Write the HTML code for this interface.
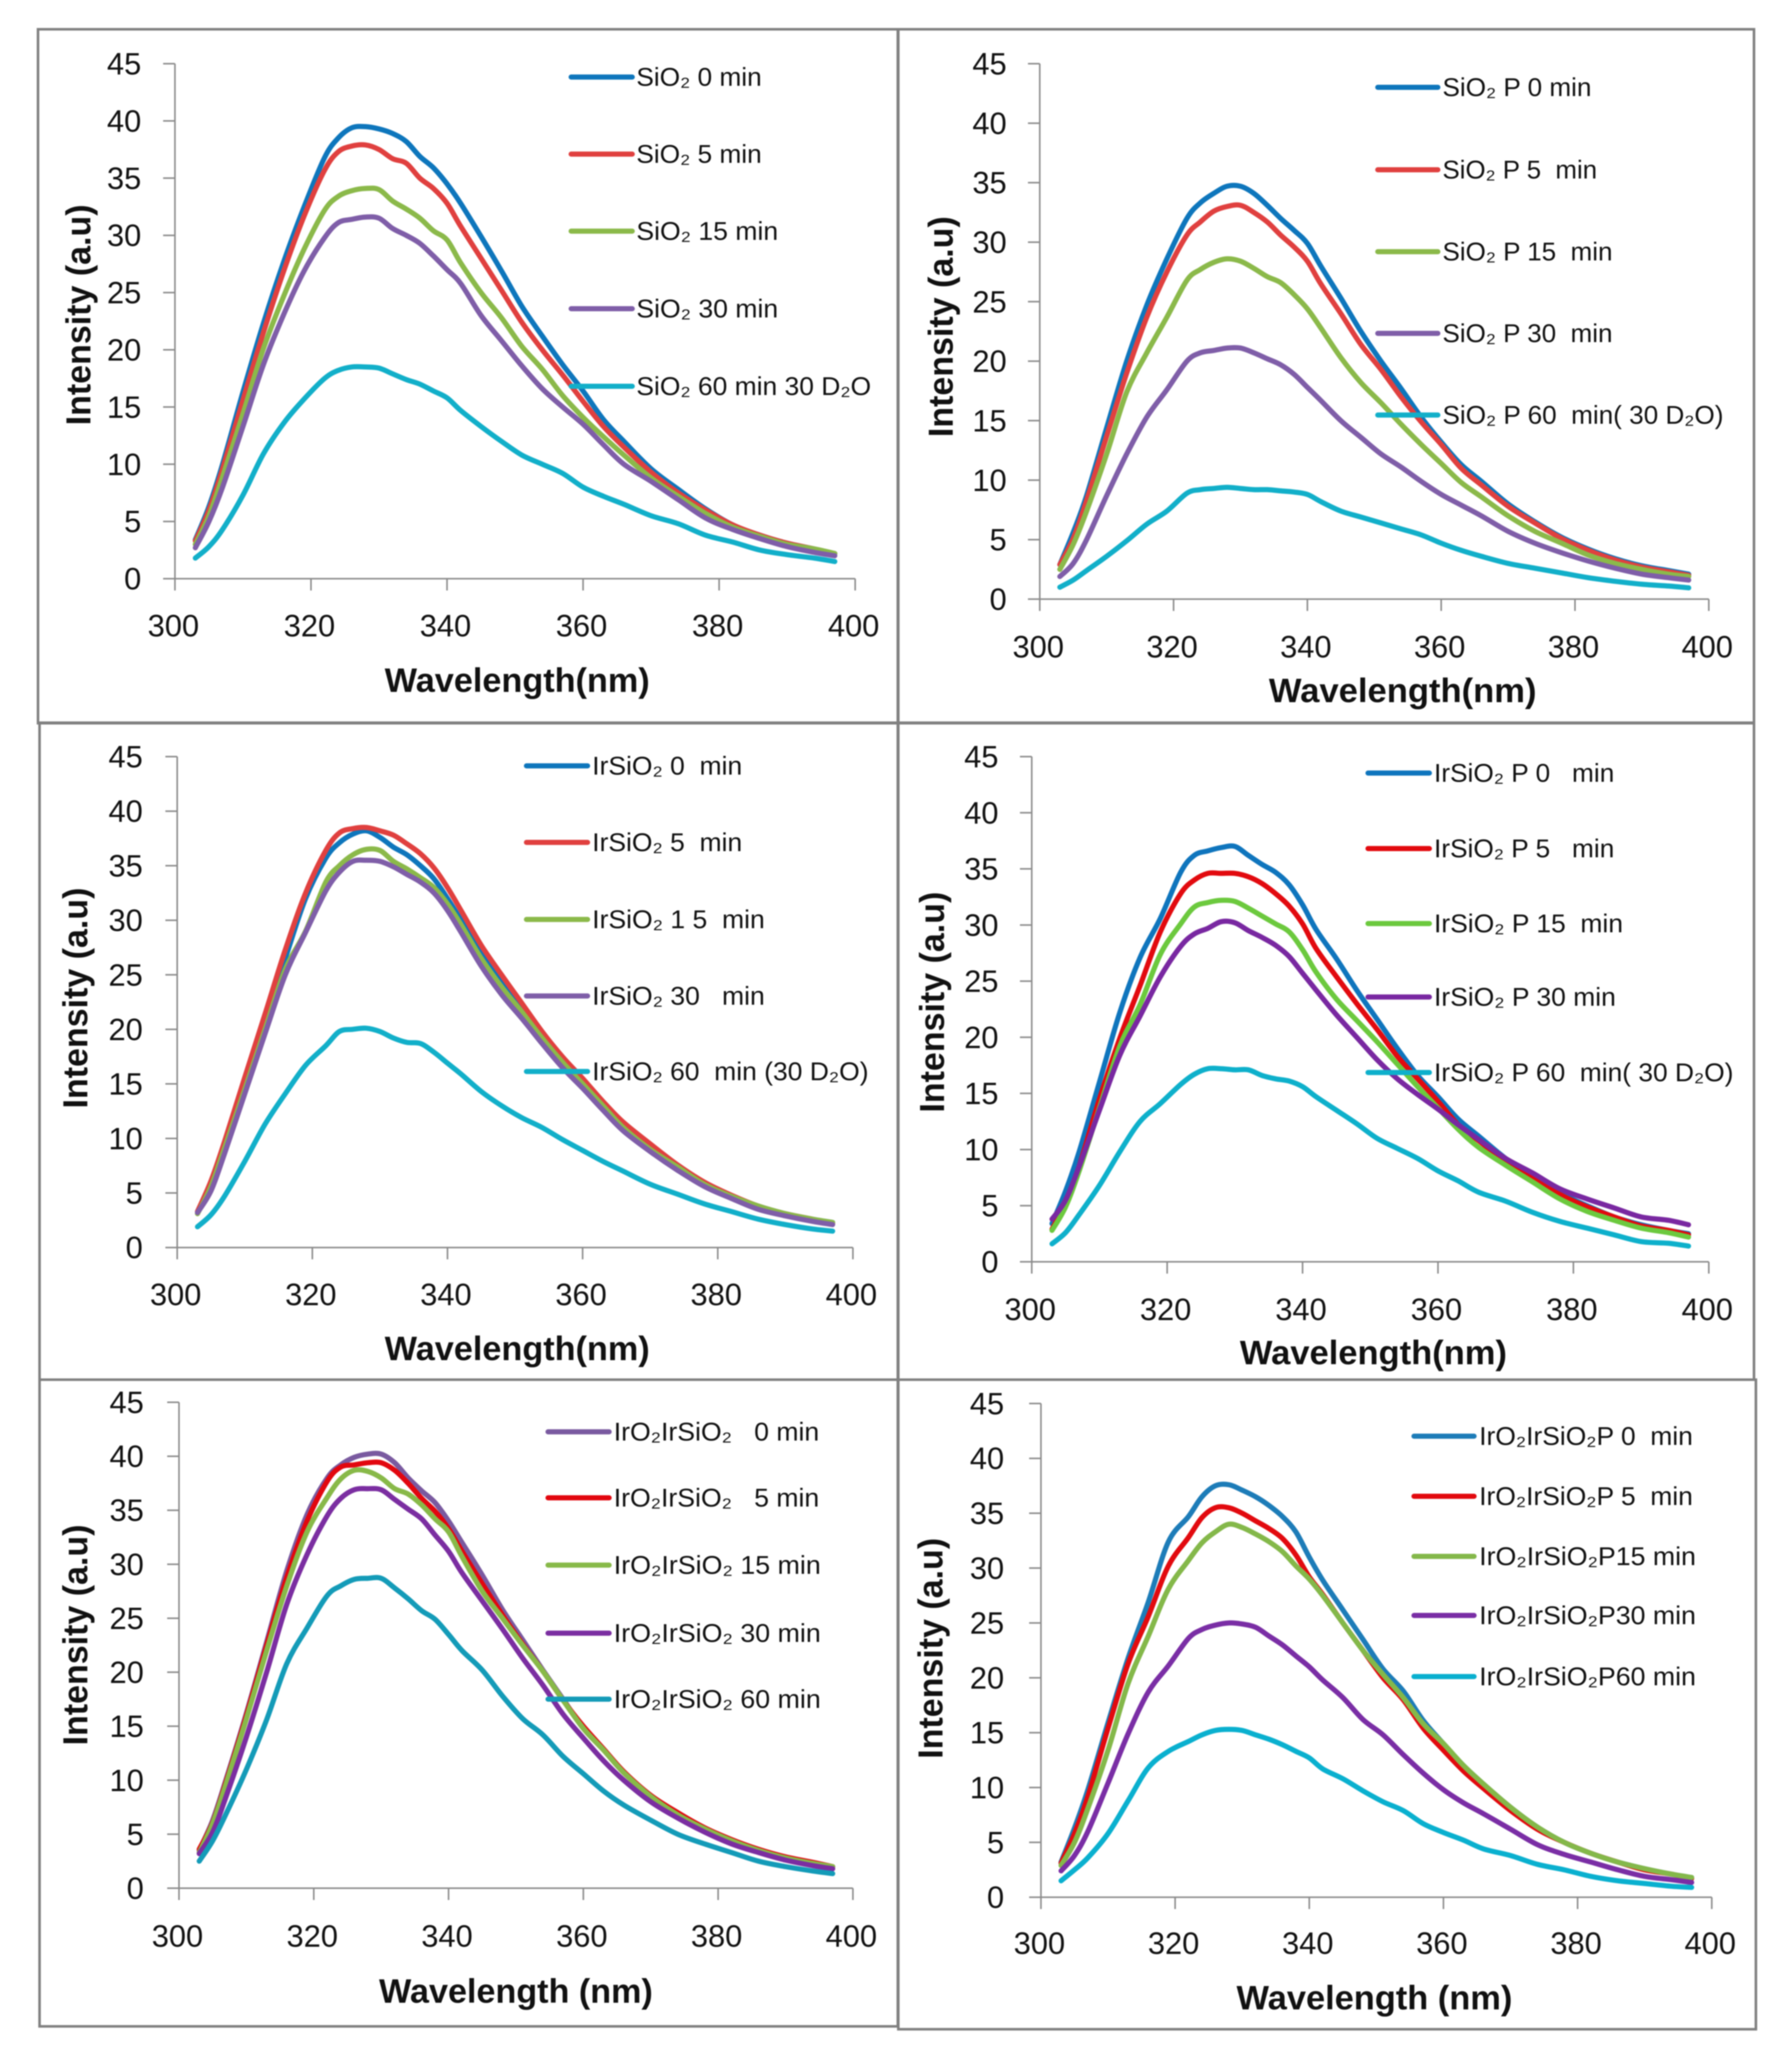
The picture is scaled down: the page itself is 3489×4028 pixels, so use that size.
<!DOCTYPE html>
<html lang="en">
<head>
<meta charset="utf-8">
<title>Emission spectra panels</title>
<style>
html,body{margin:0;padding:0;background:#fff;width:3489px;height:4028px;overflow:hidden}
svg{display:block;filter:blur(1px)}
text{font-family:"Liberation Sans","DejaVu Sans",sans-serif;fill:#111;white-space:pre}
</style>
</head>
<body>
<svg id="figure" xmlns="http://www.w3.org/2000/svg" width="3489" height="4028" viewBox="0 0 3489 4028"></svg>
<script>
const wavelengths=[303,305,307,310,313,316,319,322,324,326,328,330,332,334,336,338,340,342,345,348,351,354,357,360,363,366,370,374,378,382,386,390,394,397];
const yTicks=[0,5,10,15,20,25,30,35,40,45];
const xTicks=[300,320,340,360,380,400];

const sio2_0=[3.4,6.3,10,16.3,22.3,27.7,32.5,36.8,38.5,39.4,39.5,39.3,38.9,38.2,36.9,35.9,34.5,32.8,29.9,26.9,23.8,21.2,18.7,16.4,13.9,12,9.6,7.8,6.1,4.7,3.8,3.1,2.6,2.2];
const sio2_5=[3.3,6,9.6,15.6,21.5,26.9,31.7,35.7,37.3,37.8,37.9,37.5,36.7,36.3,35,34.1,32.8,30.8,28,25.2,22.4,20,17.8,15.5,13.3,11.5,9.3,7.5,6,4.7,3.8,3.1,2.6,2.2];
const sio2_15=[3,5.5,8.9,14.4,20.1,24.7,28.8,32.2,33.4,33.9,34.1,34,33,32.3,31.5,30.4,29.6,27.6,25,22.8,20.3,18.3,16,14.1,12.4,10.8,8.8,7.2,5.7,4.5,3.7,3,2.6,2.2];
const sio2_30=[2.7,5,8,13.3,18.7,23.1,26.9,29.8,31.1,31.4,31.6,31.5,30.6,30,29.3,28.2,27,25.8,23,20.8,18.6,16.6,15,13.5,11.7,10,8.5,6.9,5.3,4.3,3.5,2.8,2.3,2];
const sio2_60=[1.8,2.8,4.3,7.3,10.9,13.6,15.7,17.5,18.2,18.5,18.5,18.4,17.9,17.4,17,16.4,15.8,14.7,13.3,12,10.8,10,9.2,8,7.2,6.5,5.5,4.8,3.8,3.2,2.5,2.1,1.8,1.5];

const sio2p_0=[2.9,5.6,8.7,14.4,20,24.7,28.6,32,33.3,34.1,34.7,34.7,34.1,33.1,32,31,29.9,28,25.3,22.5,20,17.7,15.3,13.2,11.3,9.9,8,6.5,5.2,4.2,3.4,2.8,2.4,2.1];
const sio2p_5=[2.9,5.1,8.3,13.7,19,23.7,27.5,30.6,31.7,32.6,33,33.1,32.5,31.7,30.6,29.6,28.4,26.5,24,21.4,19.3,17,14.9,13,11,9.6,7.8,6.4,5.1,4.1,3.3,2.7,2.3,2];
const sio2p_15=[2.5,4.6,7.4,12.2,17.4,20.7,23.7,26.8,27.7,28.3,28.6,28.4,27.8,27.1,26.6,25.6,24.4,22.8,20.3,18.2,16.5,14.7,13,11.4,9.8,8.6,7,5.7,4.7,3.7,3,2.5,2.1,1.9];
const sio2p_30=[1.9,3,5,8.7,12.2,15.3,17.6,20,20.7,20.9,21.1,21.1,20.7,20.2,19.7,18.9,17.8,16.7,15,13.6,12.2,11.1,9.9,8.8,7.9,7,5.7,4.7,3.9,3.2,2.6,2.1,1.8,1.6];
const sio2p_60=[1,1.6,2.4,3.6,4.9,6.3,7.4,8.9,9.2,9.3,9.4,9.3,9.2,9.2,9.1,9,8.8,8.2,7.4,6.9,6.4,5.9,5.4,4.7,4.1,3.6,3,2.6,2.2,1.8,1.5,1.25,1.1,0.95];

const irsio2_0=[3.2,5.9,9.5,15.2,20.7,26.5,32,35.7,37.1,37.9,38.2,37.6,36.7,36,35,33.8,32,30,27,24.3,22,19.5,17.3,15.3,13.3,11.3,9.2,7.5,5.9,4.7,3.8,3.1,2.6,2.3];
const irsio2_5=[3.3,6.1,9.7,15.6,21.4,27.3,32.5,36.4,38,38.4,38.5,38.2,37.8,37,36.1,34.8,33,30.9,27.7,25,22.4,19.8,17.5,15.5,13.4,11.5,9.5,7.6,6,4.8,3.8,3.1,2.6,2.2];
const irsio2_15=[3.1,5.6,9.1,14.5,20,25.5,29,33.5,35,36,36.5,36.4,35.4,34.7,33.9,33,31.5,29.6,26.5,23.9,21.6,19.2,17,15,13,11,9,7.4,5.8,4.7,3.8,3.1,2.6,2.3];
const irsio2_30=[3.2,5.2,8.6,14.1,19.6,25,28.9,32.7,34.4,35.4,35.5,35.4,34.9,34.2,33.5,32.5,30.9,28.9,25.8,23.2,21,18.7,16.5,14.6,12.6,10.7,8.8,7.1,5.6,4.5,3.5,2.9,2.4,2.1];
const irsio2_60=[1.9,3,4.7,7.9,11.3,14.1,16.7,18.5,19.8,20,20.1,19.8,19.2,18.8,18.7,17.9,16.9,15.9,14.3,13,11.9,11,9.9,8.9,7.9,7,5.8,4.9,4,3.3,2.6,2.1,1.7,1.5];

const irsio2p_0=[3.4,6.3,9.8,16,22.2,27.1,30.6,34.7,36.2,36.6,36.9,37,36.2,35.4,34.7,33.6,31.8,29.6,27,24.2,21.6,19,16.6,14.7,12.7,11.2,9.2,7.5,6.1,5,4,3.3,2.8,2.5];
const irsio2p_5=[2.9,5.3,8.5,14.5,19.9,24.6,29.4,32.8,34,34.6,34.6,34.6,34.3,33.7,32.8,31.7,30.1,27.9,25.4,23,20.7,18.3,16.3,14.3,12.2,10.8,8.9,7.4,6,4.9,4,3.2,2.8,2.4];
const irsio2p_15=[2.8,4.9,8.1,13.7,19.2,22.9,27.4,30.1,31.6,32,32.2,32.1,31.5,30.8,30.1,29.4,27.8,25.8,23.4,21.5,19.6,17.6,15.6,13.7,11.8,10.2,8.6,7.1,5.6,4.5,3.7,3,2.6,2.2];
const irsio2p_30=[3.8,5.5,8.5,13.5,18.4,21.9,25.4,28.1,29.2,29.7,30.3,30.2,29.5,28.9,28.2,27.2,25.7,24.2,22,20,18,16.3,14.9,13.6,12.2,10.9,9.2,7.9,6.5,5.6,4.8,4,3.7,3.3];
const irsio2p_60=[1.6,2.6,4.2,6.8,9.8,12.5,14.1,15.8,16.7,17.2,17.2,17.1,17.1,16.6,16.3,16.1,15.6,14.7,13.5,12.3,11,10.1,9.2,8.1,7.2,6.2,5.4,4.4,3.6,3,2.4,1.8,1.65,1.4];

const iro2_0=[3.5,6.3,10.1,16.2,22.8,29.4,34.6,38,39.2,39.9,40.2,40.2,39.4,38,36.8,35.7,34,32,29,25.8,23,20.2,17.5,14.8,12.8,10.7,8.5,6.9,5.5,4.4,3.5,2.8,2.3,2];
const iro2_5=[3.6,6.1,9.9,16,22.5,28.8,34,37.7,39,39.2,39.4,39.4,38.7,37.5,36.1,34.9,33.3,31.2,28.2,25.3,22.6,20.1,17.4,15,12.9,10.8,8.6,7,5.6,4.5,3.6,2.9,2.4,2];
const iro2_15=[3.3,6,9.7,15.7,22,28,33,36.2,37.9,38.7,38.6,38,37,36.5,35.5,34.2,33,30.7,27.5,25,22.5,20.1,17.4,14.8,12.8,10.7,8.5,6.8,5.5,4.4,3.5,2.8,2.3,2];
const iro2_30=[3.2,5.2,8.5,14,20,26.3,30.9,34.5,36.1,36.9,37,36.9,36,35.1,34.2,32.7,31.2,29.2,26.6,24,21.3,18.8,16.1,13.9,11.8,10,8,6.5,5.2,4.1,3.3,2.6,2.1,1.8];
const iro2_60=[2.5,4.4,6.9,11,15.6,20.8,24.1,27.1,28,28.6,28.7,28.7,27.8,26.8,25.7,24.9,23.5,22,20.2,17.8,15.7,14.2,12.2,10.6,9,7.7,6.3,5,4.1,3.3,2.5,2,1.6,1.35];

const iro2p_0=[3.2,6.3,9.8,15.9,21.8,26.9,32.4,34.7,36.5,37.5,37.6,37.1,36.5,35.7,34.7,33.3,31,28.9,26.2,23.5,20.8,18.8,16.1,14,12,10.3,8.2,6.4,5,4,3.2,2.6,2.1,1.8];
const iro2p_5=[3.1,5.8,9.2,15.4,21.3,25.6,30.2,32.8,34.6,35.5,35.5,35,34.3,33.6,32.7,31.2,29.2,27.6,25,22.5,20,18,15.4,13.4,11.5,9.9,7.9,6.2,5,4,3.2,2.5,2.1,1.7];
const iro2p_15=[2.9,5,8.1,13.4,19.5,23.8,28.1,30.7,32.3,33.3,34,33.7,33.1,32.4,31.5,30.2,29,27.5,25,22.5,20.3,18.2,15.8,14,12,10.3,8.2,6.4,5,4,3.2,2.6,2.1,1.8];
const iro2p_30=[2.4,3.8,6,10.4,14.9,18.7,21.1,23.6,24.4,24.8,25,24.9,24.6,23.8,23,22,21,19.8,18.2,16.2,14.8,13,11.3,9.8,8.6,7.6,6.2,4.8,3.9,3.2,2.5,1.9,1.6,1.35];
const iro2p_60=[1.5,2.5,3.6,5.8,8.8,11.8,13.3,14.2,14.8,15.2,15.3,15.2,14.8,14.4,13.9,13.3,12.7,11.7,10.8,9.7,8.7,7.9,6.7,5.9,5.2,4.4,3.8,3,2.5,1.9,1.5,1.25,1,0.9];

const panelValues=[
  [sio2_0,sio2_5,sio2_15,sio2_30,sio2_60],
  [sio2p_0,sio2p_5,sio2p_15,sio2p_30,sio2p_60],
  [irsio2_0,irsio2_5,irsio2_15,irsio2_30,irsio2_60],
  [irsio2p_0,irsio2p_5,irsio2p_15,irsio2p_30,irsio2p_60],
  [iro2_0,iro2_5,iro2_15,iro2_30,iro2_60],
  [iro2p_0,iro2p_5,iro2p_15,iro2p_30,iro2p_60]
];
const panelLabels=[
  ["SiO₂ 0 min","SiO₂ 5 min","SiO₂ 15 min","SiO₂ 30 min","SiO₂ 60 min 30 D₂O"],
  ["SiO₂ P 0 min","SiO₂ P 5  min","SiO₂ P 15  min","SiO₂ P 30  min","SiO₂ P 60  min( 30 D₂O)"],
  ["IrSiO₂ 0  min","IrSiO₂ 5  min","IrSiO₂ 1 5  min","IrSiO₂ 30   min","IrSiO₂ 60  min (30 D₂O)"],
  ["IrSiO₂ P 0   min","IrSiO₂ P 5   min","IrSiO₂ P 15  min","IrSiO₂ P 30 min","IrSiO₂ P 60  min( 30 D₂O)"],
  ["IrO₂IrSiO₂   0 min","IrO₂IrSiO₂   5 min","IrO₂IrSiO₂ 15 min","IrO₂IrSiO₂ 30 min","IrO₂IrSiO₂ 60 min"],
  ["IrO₂IrSiO₂P 0  min","IrO₂IrSiO₂P 5  min","IrO₂IrSiO₂P15 min","IrO₂IrSiO₂P30 min","IrO₂IrSiO₂P60 min"]
];
const xTitles=["Wavelength(nm)","Wavelength(nm)","Wavelength(nm)","Wavelength(nm)","Wavelength (nm)","Wavelength (nm)"];

const layouts=[
 {frame:[74,57,1748,1408],x0:340.6,x1:1665,y0:1126.6,y45:124,yLabR:275,xLabY:1218,xtX:1007,xtY:1347,xtW:516,ytX:176,ytY:613,
  colors:["#0e76bc","#e0403f","#8bb94a","#7f5ea8","#12afc9"],
  legX:1112,legW:119,legTx:1239,legY:[150,300,450,601,752],legLen:[244,244,276,276,457]},
 {frame:[1749,57,3415,1408],x0:2024.4,x1:3327,y0:1166.4,y45:124,yLabR:1960,xLabY:1259,xtX:2731,xtY:1367,xtW:521,ytX:1855,ytY:636,
  colors:["#0e76bc","#e0403f","#8bb94a","#7f5ea8","#12afc9"],
  legX:2682.5,legW:117,legTx:2808.5,legY:[170,330.5,490,649,808],legLen:[290,301,331,331,547]},
 {frame:[77,1407,1748,2686],x0:345,x1:1660.6,y0:2428.7,y45:1473,yLabR:278,xLabY:2520,xtX:1007,xtY:2648,xtW:516,ytX:170,ytY:1943,
  colors:["#0e76bc","#e0403f","#8bb94a","#7f5ea8","#12afc9"],
  legX:1025,legW:119,legTx:1153,legY:[1491,1640,1790,1939,2086],legLen:[292,292,336,336,538]},
 {frame:[1749,1407,3415,2686],x0:2008.8,x1:3327,y0:2456.5,y45:1473,yLabR:1944,xLabY:2549,xtX:2674,xtY:2656,xtW:520,ytX:1838,ytY:1951,
  colors:["#0f75bd","#e20a0f","#6cc93e","#7928a1","#0eb0cb"],
  legX:2663.5,legW:119.5,legTx:2792,legY:[1505,1652,1798,1941,2088],legLen:[351,351,368,354,583]},
 {frame:[77,2686,1748,3945],x0:348.5,x1:1660.6,y0:3676,y45:2730,yLabR:280,xLabY:3769,xtX:1004.5,xtY:3899,xtW:533,ytX:170,ytY:3183,
  colors:["#7a5aa0","#e2070f","#88b949","#7b2ea1","#149bb8"],
  legX:1067,legW:119,legTx:1195,legY:[2787.5,2916,3047,3179.5,3308],legLen:[400,400,403,403,403]},
 {frame:[1749,2686,3418.7,3950.6],x0:2026.7,x1:3332.8,y0:3693.6,y45:2732.4,yLabR:1955,xLabY:3783,xtX:2676,xtY:3912,xtW:537,ytX:1835,ytY:3209,
  colors:["#1d7cb8","#e20a0f","#84b84a","#7a2ea5","#0ab0cf"],
  legX:2753,legW:117,legTx:2880,legY:[2796,2913,3030,3145,3264],legLen:[416,416,422,422,422]}
];

const NS="http://www.w3.org/2000/svg";
const root=document.getElementById("figure");
const AXIS="#8a8a8a";

function make(tag,parent,attrs,txt){
  const n=document.createElementNS(NS,tag);
  for(const k in attrs){n.setAttribute(k,attrs[k]);}
  if(txt!==undefined){n.textContent=txt;}
  parent.appendChild(n);
  return n;
}
function smoothPath(pts){
  let d="M"+pts[0][0].toFixed(1)+" "+pts[0][1].toFixed(1);
  for(let i=0;i<pts.length-1;i++){
    const p0=pts[Math.max(0,i-1)],p1=pts[i],p2=pts[i+1],p3=pts[Math.min(pts.length-1,i+2)];
    const c1x=p1[0]+(p2[0]-p0[0])/6,c1y=p1[1]+(p2[1]-p0[1])/6;
    const c2x=p2[0]-(p3[0]-p1[0])/6,c2y=p2[1]-(p3[1]-p1[1])/6;
    d+="C"+c1x.toFixed(1)+" "+c1y.toFixed(1)+" "+c2x.toFixed(1)+" "+c2y.toFixed(1)+" "+p2[0].toFixed(1)+" "+p2[1].toFixed(1);
  }
  return d;
}

layouts.forEach(function(L,pi){
  const xMin=xTicks[0],xMax=xTicks[xTicks.length-1],yMax=yTicks[yTicks.length-1];
  const sx=function(v){return L.x0+(v-xMin)/(xMax-xMin)*(L.x1-L.x0);};
  const sy=function(v){return L.y0-(v/yMax)*(L.y0-L.y45);};

  const g=make("g",root,{});
  
  

  const fr=make("rect",g,{x:L.frame[0],y:L.frame[1],width:L.frame[2]-L.frame[0],height:L.frame[3]-L.frame[1],fill:"none",stroke:"#808080","stroke-width":5});
  
  

  const yAxis=make("line",g,{x1:L.x0,x2:L.x0,y1:L.y45,y2:L.y0,stroke:AXIS,"stroke-width":3});
  
  
  const xAxis=make("line",g,{x1:L.x0,x2:L.x1,y1:L.y0,y2:L.y0,stroke:AXIS,"stroke-width":3});
  
  

  yTicks.forEach(function(t){
    const tk=make("line",g,{x1:L.x0-23,x2:L.x0,y1:sy(t),y2:sy(t),stroke:AXIS,"stroke-width":3});
    
    
    const lb=make("text",g,{x:L.yLabR,y:sy(t)+21,"text-anchor":"end","font-size":60},String(t));
    
    
  });
  xTicks.forEach(function(t){
    const tk=make("line",g,{x1:sx(t),x2:sx(t),y1:L.y0,y2:L.y0+23,stroke:AXIS,"stroke-width":3});
    
    
    const lb=make("text",g,{x:sx(t)-3,y:L.xLabY+21,"text-anchor":"middle","font-size":60},String(t));
    
    
  });

  const xt=make("text",g,{x:L.xtX,y:L.xtY,"text-anchor":"middle","font-size":66,"font-weight":"bold",textLength:L.xtW,lengthAdjust:"spacingAndGlyphs"},xTitles[pi]);
  
  
  const yt=make("text",g,{x:0,y:0,transform:"translate("+L.ytX+" "+L.ytY+") rotate(-90)","text-anchor":"middle","font-size":68,"font-weight":"bold",textLength:430,lengthAdjust:"spacingAndGlyphs"},"Intensity (a.u)");
  
  

  panelValues[pi].forEach(function(vals,si){
    const pts=vals.map(function(v,i){return [sx(wavelengths[i]),sy(v)];});
    const ln=make("path",g,{d:smoothPath(pts),fill:"none",stroke:L.colors[si],"stroke-width":10,"stroke-linejoin":"round","stroke-linecap":"round"});
    
    
  });

  panelLabels[pi].forEach(function(label,si){
    const key=make("line",g,{x1:L.legX,x2:L.legX+L.legW,y1:L.legY[si],y2:L.legY[si],stroke:L.colors[si],"stroke-width":10,"stroke-linecap":"round"});
    
    
    const tx=make("text",g,{x:L.legTx,y:L.legY[si]+17,"font-size":50,textLength:L.legLen[si],lengthAdjust:"spacingAndGlyphs"},label);
    
    
  });
});
</script>
</body>
</html>
